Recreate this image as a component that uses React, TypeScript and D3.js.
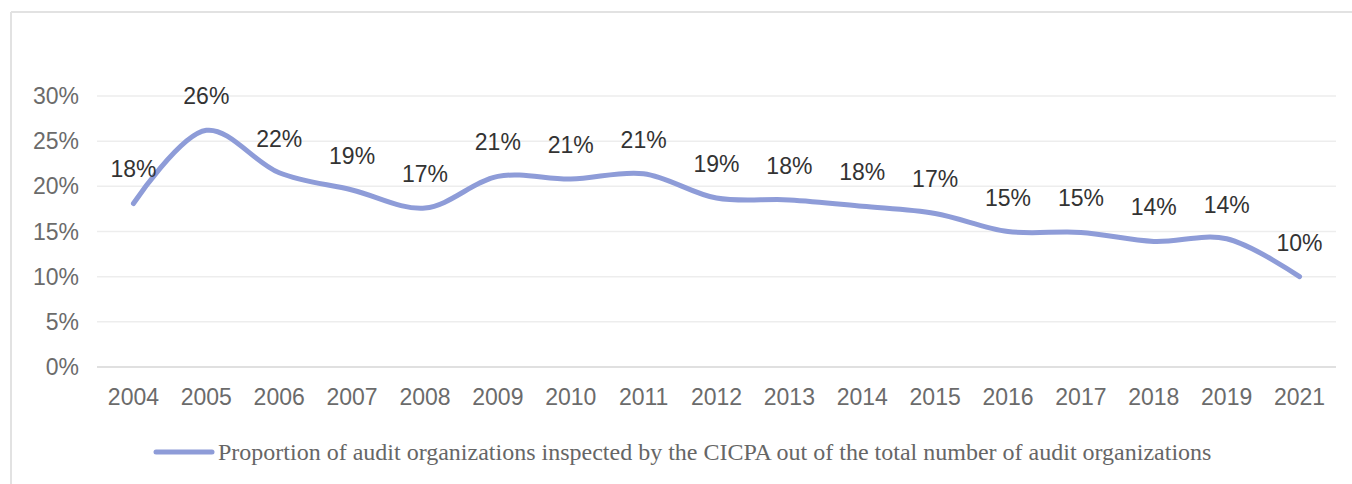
import React from "react";
import * as d3 from "d3";

const years = ["2004","2005","2006","2007","2008","2009","2010","2011","2012","2013","2014","2015","2016","2017","2018","2019","2021"];
const values = [18.1, 26.2, 21.5, 19.6, 17.6, 21.1, 20.8, 21.4, 18.7, 18.5, 17.8, 17.0, 15.0, 14.9, 13.9, 14.2, 10.0];
const labels = ["18%","26%","22%","19%","17%","21%","21%","21%","19%","18%","18%","17%","15%","15%","14%","14%","10%"];
const yTicks = [0, 5, 10, 15, 20, 25, 30];
const legendText = "Proportion of audit organizations inspected by the CICPA out of the total number of audit organizations";

const W = 1352, H = 484;
const plotLeft = 97, plotRight = 1336, plotTop = 96, plotBottom = 367;
const lineColor = "#8e9cd8";
const sans = "'Liberation Sans', Arial, Helvetica, sans-serif";

export default function App() {
  const x = d3.scaleBand<string>().domain(years).range([plotLeft, plotRight]).padding(0);
  const y = d3.scaleLinear().domain([0, 30]).range([plotBottom, plotTop]);
  const cx = (yr: string) => (x(yr) as number) + x.bandwidth() / 2;
  const line = d3.line<number>()
    .x((_, i) => cx(years[i]))
    .y((v) => y(v))
    .curve(d3.curveCatmullRom.alpha(0.5));
  return (
    <svg width={W} height={H} style={{ position: "absolute", left: 0, top: 0, background: "#fff" }}>
      <rect x={0} y={0} width={W} height={H} fill="#fff" />
      <line x1={11} x2={W} y1={12} y2={12} stroke="#e2e2e2" strokeWidth={2} />
      <line x1={11} x2={11} y1={12} y2={H} stroke="#e2e2e2" strokeWidth={2} />
      {yTicks.map((t) => (
        <g key={t}>
          <line x1={plotLeft} x2={plotRight} y1={y(t)} y2={y(t)} stroke={t === 0 ? "#d6d6d6" : "#ededed"} strokeWidth={1.5} />
          <text x={79} y={y(t)} textAnchor="end" dominantBaseline="central" fontFamily={sans} fontSize={23} fill="#6b6b6b">{t}%</text>
        </g>
      ))}
      {years.map((yr) => (
        <text key={yr} x={cx(yr)} y={397} textAnchor="middle" dominantBaseline="central" fontFamily={sans} fontSize={23} fill="#6b6b6b">{yr}</text>
      ))}
      <path d={line(values) || ""} fill="none" stroke={lineColor} strokeWidth={5} strokeLinecap="round" strokeLinejoin="round" />
      {values.map((v, i) => (
        <text key={i} x={cx(years[i])} y={y(v) - 34} textAnchor="middle" dominantBaseline="central" fontFamily={sans} fontSize={23} fill="#333">{labels[i]}</text>
      ))}
      <line x1={156} x2={212} y1={452} y2={452} stroke={lineColor} strokeWidth={5} strokeLinecap="round" />
      <text x={218} y={460} fontFamily="'Liberation Serif', 'Times New Roman', serif" fontSize={24} fill="#666">{legendText}</text>
    </svg>
  );
}
